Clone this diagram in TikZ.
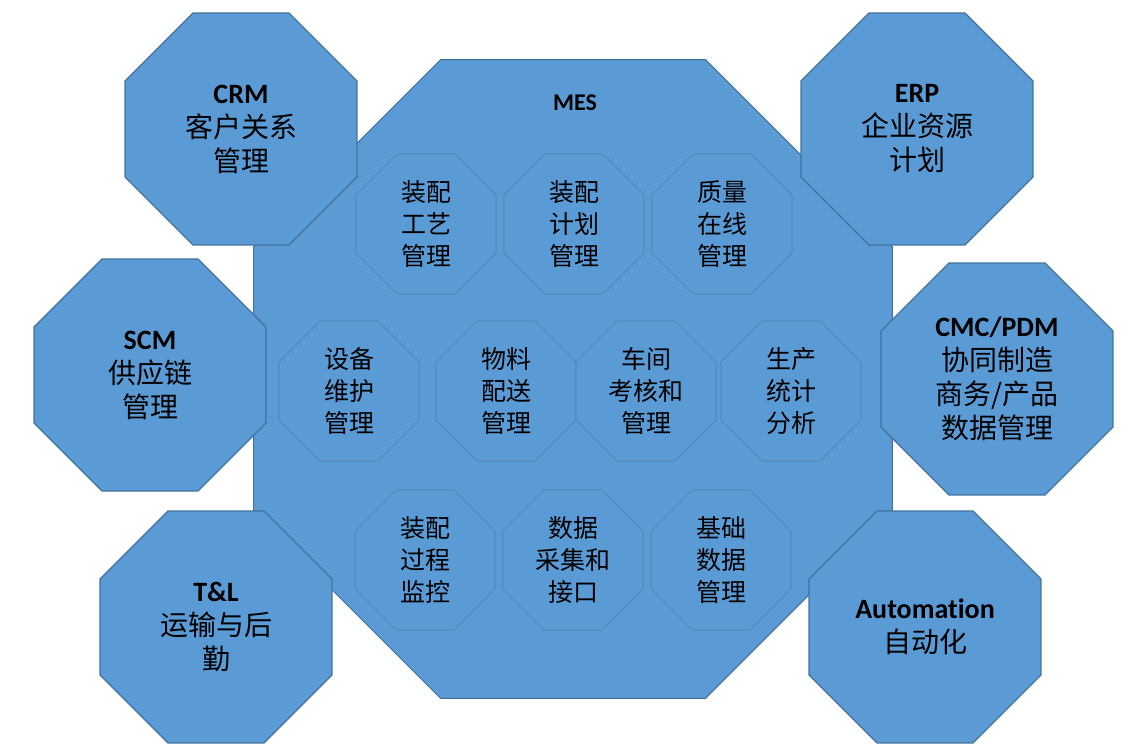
\documentclass[tikz,border=0pt]{standalone}
\usepackage{fontspec}
\setmainfont{Carlito}[Ligatures=NoCommon]
\newfontfamily\cjk{Noto Sans CJK SC}
\usetikzlibrary{shapes.geometric}

\definecolor{octfill}{RGB}{91,155,213}
\definecolor{octline}{RGB}{65,113,156}

\begin{document}
\begin{tikzpicture}[x=1pt, y=-1pt,
    octagon/.style={regular polygon, regular polygon sides=8, fill=octfill, draw=octline, inner sep=0pt, align=center},
    mesoct/.style={octagon, minimum size=691.6pt, line width=1pt},
    sysoct/.style={octagon, minimum size=251.1pt, line width=1.2pt, font=\fontsize{28}{34}\selectfont},
    modoct/.style={octagon, minimum size=151.5pt, line width=0.6pt, draw=octline!70!octfill, font=\cjk\fontsize{25}{32}\selectfont}]
        \useasboundingbox (0,0) rectangle (1125,754);

        \node[mesoct] (mes) at (573,379) {};
        \node[font=\bfseries\fontsize{24}{28}\selectfont] (mestitle) at (575,103) {MES};

        \node[modoct] (gongyi) at (426,224) {装配\\工艺\\管理};
        \node[modoct] (jihua) at (574,224) {装配\\计划\\管理};
        \node[modoct] (zhiliang) at (722,224) {质量\\在线\\管理};

        \node[modoct] (shebei) at (349,391) {设备\\维护\\管理};
        \node[modoct] (wuliao) at (506,391) {物料\\配送\\管理};
        \node[modoct] (chejian) at (646,391) {车间\\考核和\\管理};
        \node[modoct] (tongji) at (791,391) {生产\\统计\\分析};

        \node[modoct] (guocheng) at (425,560) {装配\\过程\\监控};
        \node[modoct] (caiji) at (573,560) {数据\\采集和\\接口};
        \node[modoct] (jichu) at (721,560) {基础\\数据\\管理};

        \node[sysoct] (crm) at (241,129) {\textbf{CRM}\\{\cjk 客户关系}\\{\cjk 管理}};
        \node[sysoct] (erp) at (917,129) {\textbf{ERP}\\{\cjk 企业资源}\\{\cjk 计划}};
        \node[sysoct] (scm) at (150,375) {\textbf{SCM}\\{\cjk 供应链}\\{\cjk 管理}};
        \node[sysoct] (pdm) at (997,379) {\textbf{CMC/PDM}\\{\cjk 协同制造}\\{\cjk 商务/产品}\\{\cjk 数据管理}};
        \node[sysoct] (tl) at (216,627) {\textbf{T\&L}\\{\cjk 运输与后}\\{\cjk 勤}};
        \node[sysoct] (auto) at (925,627) {\textbf{Automation}\\{\cjk 自动化}};
      \end{tikzpicture}
\end{document}
